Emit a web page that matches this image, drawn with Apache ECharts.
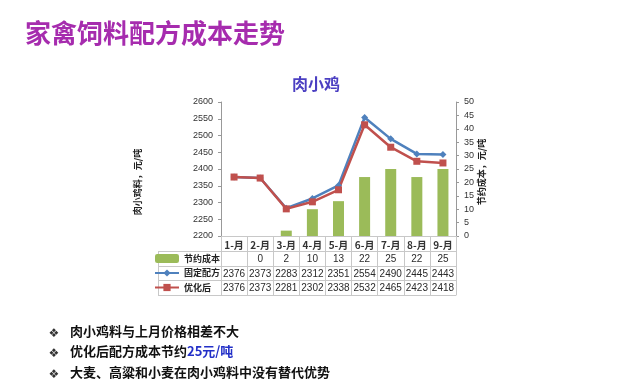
<!DOCTYPE html>
<html>
<head>
<meta charset="utf-8">
<script src="https://cdn.jsdelivr.net/npm/echarts@6/dist/echarts.min.js"></script>
<style>
html,body{margin:0;padding:0;background:#fff;}
#main{width:640px;height:388px;}
</style>
</head>
<body>
<div id="main"></div>
<script>
const pageTitle = '家禽饲料配方成本走势';
const chartTitle = '肉小鸡';
const months = ['1-月','2-月','3-月','4-月','5-月','6-月','7-月','8-月','9-月'];
const savingName = '节约成本';
const fixedName = '固定配方';
const optName = '优化后';
const savings = [null, 0, 2, 10, 13, 22, 25, 22, 25];
const fixedCost = [2376, 2373, 2283, 2312, 2351, 2554, 2490, 2445, 2443];
const optCost = [2376, 2373, 2281, 2302, 2338, 2532, 2465, 2423, 2418];
const leftName = '肉小鸡料，元/吨';
const rightName = '节约成本，元/吨';
const bullets = ['肉小鸡料与上月价格相差不大', ['优化后配方成本节约', '25元/吨'], '大麦、高粱和小麦在肉小鸡料中没有替代优势'];

const FONT = '"Noto Sans CJK SC", "Liberation Sans", sans-serif';
const NUMFONT = '"Liberation Sans Narrow", "Liberation Sans", sans-serif';
const BORDER = '#c8c8c8';
const chart = echarts.init(document.getElementById('main'), null, {renderer: 'canvas'});

const GRID_TOP = 102, GRID_BOTTOM_Y = 236, GRID_LEFT = 221, GRID_RIGHT_X = 456;
const rowOff = [0, 15, 30, 44, 59];

function rowAxis(data, off, showLabel) {
  return {
    type: 'category', data: data, position: 'bottom', offset: off, gridIndex: 0,
    axisLine: {show: true, lineStyle: {color: BORDER, width: 1}},
    axisTick: {show: false},
    axisLabel: {show: showLabel, interval: 0, margin: 3, fontSize: 10,
      color: '#2a2a2a', fontFamily: NUMFONT}
  };
}

const xAxes = [
  {
    type: 'category', data: months, position: 'bottom', offset: 0,
    axisLine: {show: true, lineStyle: {color: BORDER, width: 1}},
    axisTick: {show: true, interval: 0, length: 59, lineStyle: {color: BORDER}},
    axisLabel: {interval: 0, margin: 4, fontSize: 10, fontWeight: 'bold', color: '#333', fontFamily: FONT}
  },
  rowAxis(savings.map(v => v === null ? '' : String(v)), rowOff[1], true),
  rowAxis(fixedCost.map(String), rowOff[2], true),
  rowAxis(optCost.map(String), rowOff[3], true),
  rowAxis(months, rowOff[4], false)
];

const graphics = [
  {type: 'text', left: 25, top: 20, style: {text: pageTitle, font: 'bold 26px ' + FONT, fill: '#a62cae'}},
  {type: 'text', left: 292, top: 76, style: {text: chartTitle, font: 'bold 16px ' + FONT, fill: '#4b3fc2'}},
  {type: 'text', x: 138, y: 182, rotation: Math.PI / 2,
    style: {text: leftName, font: 'bold 9px ' + FONT, fill: '#222', align: 'center', verticalAlign: 'middle'}},
  {type: 'text', x: 482, y: 172, rotation: Math.PI / 2,
    style: {text: rightName, font: 'bold 9px ' + FONT, fill: '#222', align: 'center', verticalAlign: 'middle'}}
];
[251, 266, 280, 295].forEach(y => {
  graphics.push({type: 'line', shape: {x1: 158, y1: y + 0.5, x2: GRID_LEFT, y2: y + 0.5}, style: {stroke: BORDER, lineWidth: 1}});
});
graphics.push({type: 'line', shape: {x1: 158.5, y1: 251, x2: 158.5, y2: 295}, style: {stroke: BORDER, lineWidth: 1}});
const bulletY = [334, 354, 375];
bullets.forEach((b, i) => {
  graphics.push({type: 'text', x: 54, y: bulletY[i], style: {text: '\u2756', font: '12px "DejaVu Sans"', fill: '#333', align: 'center', verticalAlign: 'middle'}});
  if (Array.isArray(b)) {
    graphics.push({type: 'text', left: 70, top: bulletY[i] - 9, style: {
      text: '{a|' + b[0] + '}{b|' + b[1] + '}',
      rich: {a: {font: 'bold 13px ' + FONT, fill: '#111'}, b: {font: 'bold 13px ' + FONT, fill: '#2330c8'}}
    }});
  } else {
    graphics.push({type: 'text', left: 70, top: bulletY[i] - 9, style: {text: b, font: 'bold 13px ' + FONT, fill: '#111'}});
  }
});

chart.setOption({
  backgroundColor: '#fff',
  animation: false,
  grid: {left: GRID_LEFT, right: 640 - GRID_RIGHT_X, top: GRID_TOP, bottom: 388 - GRID_BOTTOM_Y, containLabel: false},
  legend: {
    orient: 'vertical', left: 154, top: 251.5, padding: 0, itemGap: 0.5, itemWidth: 24, itemHeight: 9,
    data: [savingName, fixedName, optName],
    textStyle: {fontSize: 9, fontWeight: 'bold', color: '#222', fontFamily: FONT, lineHeight: 14},
    selectedMode: false
  },
  xAxis: xAxes,
  yAxis: [
    {type: 'value', min: 2200, max: 2600, interval: 50, position: 'left',
      axisLine: {show: true, lineStyle: {color: '#999'}}, axisTick: {show: true, length: 3, lineStyle: {color: '#999'}},
      splitLine: {show: false},
      axisLabel: {fontSize: 9, color: '#333', margin: 8, fontFamily: '"Liberation Sans", sans-serif', formatter: v => String(v)}},
    {type: 'value', min: 0, max: 50, interval: 5, position: 'right',
      axisLine: {show: true, lineStyle: {color: '#999'}}, axisTick: {show: true, length: 3, lineStyle: {color: '#999'}},
      splitLine: {show: false},
      axisLabel: {fontSize: 9, color: '#333', margin: 8, fontFamily: '"Liberation Sans", sans-serif', formatter: v => String(v)}}
  ],
  series: [
    {name: savingName, type: 'bar', xAxisIndex: 0, yAxisIndex: 1, data: savings, barWidth: 11,
      itemStyle: {color: '#9bbb59'}},
    {name: fixedName, type: 'line', xAxisIndex: 0, yAxisIndex: 0, data: fixedCost,
      symbol: 'diamond', symbolSize: 7, lineStyle: {color: '#4f81bd', width: 2.5}, itemStyle: {color: '#4f81bd'}},
    {name: optName, type: 'line', xAxisIndex: 0, yAxisIndex: 0, data: optCost,
      symbol: 'rect', symbolSize: 7, lineStyle: {color: '#c0504d', width: 2.5}, itemStyle: {color: '#c0504d'}}
  ],
  graphic: graphics
});
</script>
</body>
</html>
